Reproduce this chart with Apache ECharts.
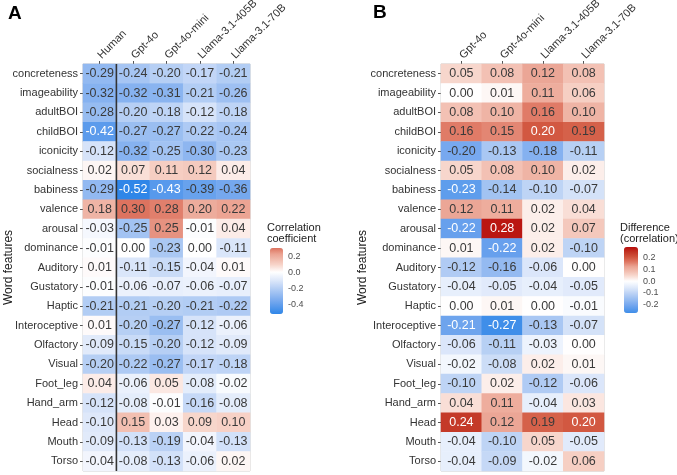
<!DOCTYPE html>
<html>
<head>
<meta charset="utf-8">
<script src="https://cdn.jsdelivr.net/npm/echarts@6/dist/echarts.min.js"></script>
<style>
  html, body { margin: 0; padding: 0; background: #fff; }
  #chart { width: 677px; height: 475px; }
</style>
</head>
<body>
<div id="chart"></div>
<script>
// word features (rows, top to bottom)
const features = ['concreteness', 'imageability', 'adultBOI', 'childBOI', 'iconicity', 'socialness',
  'babiness', 'valence', 'arousal', 'dominance', 'Auditory', 'Gustatory', 'Haptic', 'Interoceptive',
  'Olfactory', 'Visual', 'Foot_leg', 'Hand_arm', 'Head', 'Mouth', 'Torso']

// panel A: correlation coefficients
const corrCols = ['Human', 'Gpt-4o', 'Gpt-4o-mini', 'Llama-3.1-405B', 'Llama-3.1-70B']
const corrHuman = [-0.29, -0.32, -0.28, -0.42, -0.12, 0.02, -0.29, 0.18, -0.03, -0.01, 0.01, -0.01, -0.21, 0.01, -0.09, -0.20, 0.04, -0.12, -0.10, -0.09, -0.04]
const corrGpt4o = [-0.24, -0.32, -0.20, -0.27, -0.32, 0.07, -0.52, 0.30, -0.25, 0.00, -0.11, -0.06, -0.21, -0.20, -0.15, -0.22, -0.06, -0.08, 0.15, -0.13, -0.08]
const corrGpt4oMini = [-0.20, -0.31, -0.18, -0.27, -0.25, 0.11, -0.43, 0.28, 0.25, -0.23, -0.15, -0.07, -0.20, -0.27, -0.20, -0.27, 0.05, -0.01, 0.03, -0.19, -0.13]
const corrLlama405 = [-0.17, -0.21, -0.12, -0.22, -0.30, 0.12, -0.39, 0.20, -0.01, 0.00, -0.04, -0.06, -0.21, -0.12, -0.12, -0.17, -0.08, -0.16, 0.09, -0.04, -0.06]
const corrLlama70 = [-0.21, -0.26, -0.18, -0.24, -0.23, 0.04, -0.36, 0.22, 0.04, -0.11, 0.01, -0.07, -0.22, -0.06, -0.09, -0.18, -0.02, -0.08, 0.10, -0.13, 0.02]

// panel B: difference to human correlation
const diffCols = ['Gpt-4o', 'Gpt-4o-mini', 'Llama-3.1-405B', 'Llama-3.1-70B']
const diffGpt4o = [0.05, 0.00, 0.08, 0.16, -0.20, 0.05, -0.23, 0.12, -0.22, 0.01, -0.12, -0.04, 0.00, -0.21, -0.06, -0.02, -0.10, 0.04, 0.24, -0.04, -0.04]
const diffGpt4oMini = [0.08, 0.01, 0.10, 0.15, -0.13, 0.08, -0.14, 0.11, 0.28, -0.22, -0.16, -0.05, 0.01, -0.27, -0.11, -0.08, 0.02, 0.11, 0.12, -0.10, -0.09]
const diffLlama405 = [0.12, 0.11, 0.16, 0.20, -0.18, 0.10, -0.10, 0.02, 0.02, 0.02, -0.06, -0.04, 0.00, -0.13, -0.03, 0.02, -0.12, -0.04, 0.19, 0.05, -0.02]
const diffLlama70 = [0.08, 0.06, 0.10, 0.19, -0.11, 0.02, -0.07, 0.04, 0.07, -0.10, 0.00, -0.05, -0.01, -0.07, 0.00, 0.01, -0.06, 0.03, 0.20, -0.05, 0.06]

// colour bar ranges and legend ticks
const corrRange = [-0.52, 0.30]
const corrTicks = [-0.4, -0.2, 0, 0.2]
const diffRange = [-0.27, 0.29]
const diffTicks = [-0.2, -0.1, 0, 0.1, 0.2]

// blue - white - red ramp, scaled by the largest absolute value
const posStops = [[0, [255, 255, 255]], [0.18, [247, 212, 201]], [0.43, [235, 163, 146]], [0.57, [222, 117, 97]], [0.71, [208, 83, 60]], [0.86, [193, 51, 34]], [1, [184, 12, 12]]]
const negStops = [[0, [255, 255, 255]], [0.2, [220, 231, 250]], [0.4, [179, 205, 244]], [0.7, [116, 167, 238]], [1, [47, 134, 232]]]

function rampColor(v, m) {
  let t = Math.max(-1, Math.min(1, v / m))
  const stops = t >= 0 ? posStops : negStops
  const a = Math.abs(t)
  for (let i = 1; i < stops.length; i++) {
    if (a <= stops[i][0]) {
      const [t0, c0] = stops[i - 1]
      const [t1, c1] = stops[i]
      const f = (a - t0) / (t1 - t0)
      const c = c0.map((x, k) => Math.round(x + (c1[k] - x) * f))
      return `rgb(${c[0]},${c[1]},${c[2]})`
    }
  }
  const c = stops[stops.length - 1][1]
  return `rgb(${c[0]},${c[1]},${c[2]})`
}

function rampColors(range) {
  const m = Math.max(Math.abs(range[0]), Math.abs(range[1]))
  const out = []
  for (let i = 0; i <= 60; i++) {
    out.push(rampColor(range[0] + (range[1] - range[0]) * i / 60, m))
  }
  return out
}

function cells(cols, isWhite) {
  const data = []
  cols.forEach((col, x) => {
    col.forEach((v, y) => {
      data.push({
        value: [x, y, v],
        label: { color: isWhite(v) ? '#ffffff' : '#3a3a3a' }
      })
    })
  })
  return data
}

const corrData = cells([corrHuman, corrGpt4o, corrGpt4oMini, corrLlama405, corrLlama70], v => Math.abs(v) > 0.4)
const diffData = cells([diffGpt4o, diffGpt4oMini, diffLlama405, diffLlama70], v => v >= 0.2 || v <= -0.21)

const font = 'Liberation Sans, Arial, sans-serif'

const chart = echarts.init(document.getElementById('chart'), null, { renderer: 'canvas' })

const catX = (cats, gridIndex) => ({
  type: 'category',
  gridIndex,
  data: cats,
  position: 'top',
  axisLine: { show: false, onZero: false },
  axisTick: { show: true, length: 3, alignWithLabel: true, lineStyle: { color: '#555' } },
  axisLabel: { rotate: -45, align: 'left', verticalAlign: 'middle', fontSize: 11, color: '#333', fontFamily: font, margin: 7, interval: 0, hideOverlap: false },
  splitLine: { show: false }
})

const catY = (gridIndex, nameGap) => ({
  type: 'category',
  gridIndex,
  data: features,
  inverse: true,
  name: 'Word features',
  nameLocation: 'middle',
  nameGap,
  nameMoveOverlap: false,
  nameTextStyle: { fontSize: 12, color: '#222', fontFamily: font },
  axisLine: { show: false, onZero: false },
  axisTick: { show: true, length: 3, alignWithLabel: true, lineStyle: { color: '#555' } },
  axisLabel: { fontSize: 11, color: '#333', fontFamily: font, margin: 5, interval: 0 },
  splitLine: { show: false }
})

const legendY = (gridIndex, range, ticks) => ({
  type: 'value',
  gridIndex,
  min: range[0],
  max: range[1],
  position: 'right',
  axisLine: { show: false, onZero: false },
  axisTick: { show: false },
  splitLine: { show: false },
  axisLabel: {
    customValues: ticks,
    fontSize: 9,
    color: '#4d4d4d',
    fontFamily: font,
    margin: 5,
    formatter: v => v.toFixed(1)
  }
})

const cellLabel = {
  show: true,
  fontSize: 12.5,
  fontFamily: font,
  formatter: p => p.value[2].toFixed(2)
}

const titleText = { fontSize: 11, fontWeight: 'normal', color: '#222', lineHeight: 11, fontFamily: font }

chart.setOption({
  backgroundColor: '#ffffff',
  animation: false,
  title: [
    { text: 'A', left: 8, top: 4, padding: 0, textStyle: { fontSize: 19, fontWeight: 'bold', color: '#000', fontFamily: font } },
    { text: 'B', left: 373, top: 3, padding: 0, textStyle: { fontSize: 19, fontWeight: 'bold', color: '#000', fontFamily: font } },
    { text: 'Correlation\ncoefficient', left: 267, top: 222, padding: 0, textStyle: titleText },
    { text: 'Difference\n(correlation)', left: 620, top: 222, padding: 0, textStyle: titleText }
  ],
  grid: [
    { left: 83, top: 64, width: 167, height: 407, show: true, borderColor: '#c8c8c8', borderWidth: 1, outerBoundsMode: 'none' },
    { left: 441, top: 64, width: 163, height: 407, show: true, borderColor: '#c8c8c8', borderWidth: 1, outerBoundsMode: 'none' },
    { left: 270, top: 248, width: 13, height: 66, outerBoundsMode: 'none' },
    { left: 624, top: 247, width: 14, height: 66, outerBoundsMode: 'none' }
  ],
  xAxis: [
    catX(corrCols, 0),
    catX(diffCols, 1),
    { type: 'value', gridIndex: 0, min: 0, max: corrCols.length, show: false, position: 'bottom' },
    { type: 'value', gridIndex: 2, show: false },
    { type: 'value', gridIndex: 3, show: false }
  ],
  yAxis: [
    catY(0, 68),
    catY(1, 72),
    { type: 'value', gridIndex: 0, min: 0, max: features.length, show: false, position: 'right' },
    legendY(2, corrRange, corrTicks),
    legendY(3, diffRange, diffTicks)
  ],
  visualMap: [
    {
      type: 'continuous',
      seriesIndex: 0,
      dimension: 2,
      min: corrRange[0],
      max: corrRange[1],
      calculable: false,
      left: 270,
      top: 248,
      itemWidth: 13,
      itemHeight: 66,
      padding: 0,
      text: null,
      inRange: { color: rampColors(corrRange) }
    },
    {
      type: 'continuous',
      seriesIndex: 1,
      dimension: 2,
      min: diffRange[0],
      max: diffRange[1],
      calculable: false,
      left: 624,
      top: 247,
      itemWidth: 14,
      itemHeight: 66,
      padding: 0,
      text: null,
      inRange: { color: rampColors(diffRange) }
    }
  ],
  series: [
    {
      type: 'heatmap',
      xAxisIndex: 0,
      yAxisIndex: 0,
      data: corrData,
      label: cellLabel,
      itemStyle: { borderWidth: 0 },
      emphasis: { disabled: true }
    },
    {
      type: 'heatmap',
      xAxisIndex: 1,
      yAxisIndex: 1,
      data: diffData,
      label: cellLabel,
      itemStyle: { borderWidth: 0 },
      emphasis: { disabled: true }
    },
    {
      // separator between human and model columns
      type: 'line',
      xAxisIndex: 2,
      yAxisIndex: 2,
      data: [[1, 0], [1, features.length]],
      symbol: 'none',
      lineStyle: { color: '#333', width: 1.6 },
      z: 10
    }
  ]
})
</script>
</body>
</html>
